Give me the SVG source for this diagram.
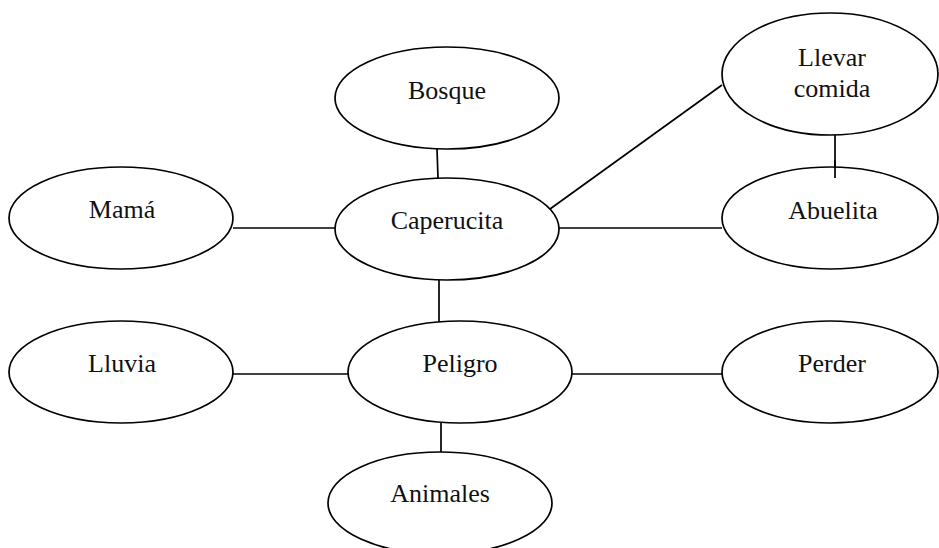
<svg xmlns="http://www.w3.org/2000/svg" width="939" height="548" viewBox="0 0 939 548">
<style>
.n ellipse{fill:#fff;stroke:#000;stroke-width:1.7}
.n text{font-family:"Liberation Serif","Times New Roman",serif;font-size:26px;fill:#111;text-anchor:middle}
#connectors line{stroke:#000;stroke-width:1.7}
</style>
<rect width="939" height="548" fill="#fff"/>
<g id="connectors">
<line x1="437" y1="149" x2="438" y2="178"/>
<line x1="233" y1="228" x2="336" y2="228"/>
<line x1="559" y1="228" x2="722" y2="228"/>
<line x1="550" y1="209" x2="722" y2="85"/>
<line x1="835" y1="135" x2="835" y2="178"/>
<line x1="439" y1="280" x2="439" y2="322"/>
<line x1="233" y1="374" x2="349" y2="374"/>
<line x1="571" y1="374" x2="722" y2="374"/>
<line x1="441" y1="423" x2="441" y2="452"/>
</g>
<g id="bosque" class="n"><ellipse cx="447" cy="98" rx="112" ry="51"/><text x="447" y="99">Bosque</text></g>
<g id="llevar" class="n"><ellipse cx="830" cy="74" rx="108" ry="61"/><text x="832" y="66">Llevar</text><text x="832" y="97">comida</text></g>
<g id="mama" class="n"><ellipse cx="121" cy="218" rx="112" ry="51"/><text x="122" y="218">Mamá</text></g>
<g id="caperucita" class="n"><ellipse cx="447" cy="229" rx="112" ry="51"/><text x="447" y="229">Caperucita</text></g>
<g id="abuelita" class="n"><ellipse cx="830" cy="218" rx="108" ry="51"/><text x="833" y="219">Abuelita</text></g>
<line x1="835" y1="160" x2="835" y2="178" stroke="#000" stroke-width="1.7"/>
<g id="lluvia" class="n"><ellipse cx="121" cy="372" rx="112" ry="51"/><text x="122" y="372">Lluvia</text></g>
<g id="peligro" class="n"><ellipse cx="460" cy="372" rx="112" ry="51"/><text x="460" y="372">Peligro</text></g>
<g id="perder" class="n"><ellipse cx="830" cy="372" rx="108" ry="51"/><text x="832" y="372">Perder</text></g>
<g id="animales" class="n"><ellipse cx="440" cy="503" rx="112" ry="51"/><text x="440" y="502">Animales</text></g>
</svg>
